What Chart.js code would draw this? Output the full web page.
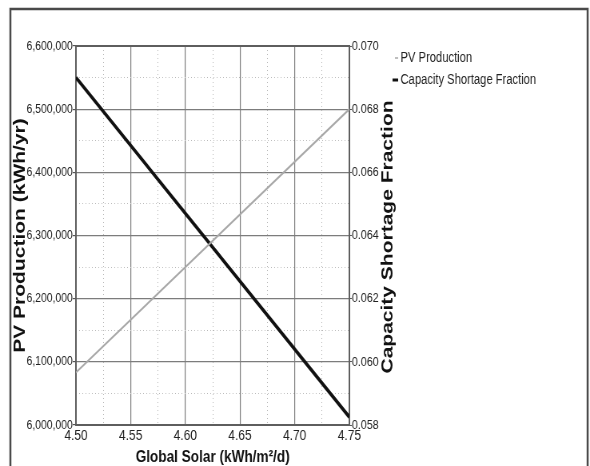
<!DOCTYPE html>
<html>
<head>
<meta charset="utf-8">
<title>PV Production vs Global Solar</title>
<script src="https://cdn.jsdelivr.net/npm/chart.js@4.4.1/dist/chart.umd.min.js"></script>
<style>
    html, body { margin: 0; padding: 0; background: #fff; overflow: hidden; }
</style>
</head>
<body>
<!-- canvas drawn wider and squeezed, like the narrow look of the original -->
<canvas id="myChart" width="738" height="466" style="width:590px;height:466px;display:block"></canvas>
<script>
// Sensitivity values (x) and results
const globalSolar = [4.50, 4.75];
const pvProduction = [6083000, 6500000];
const capacityShortage = [0.0690, 0.05825];

// Tick settings
const pvTicks = { min: 6000000, max: 6600000, step: 100000 };
const csfTicks = { min: 0.058, max: 0.070, step: 0.002 };
const solarTicks = { min: 4.50, max: 4.75, step: 0.05 };

const seriesLabels = ['PV Production', 'Capacity Shortage Fraction'];

const FONT = '"Liberation Sans", Arial, sans-serif';
Chart.defaults.font.family = FONT;
Chart.defaults.color = '#222';

const majorGrid = '#7c7c7c';
const minorGrid = '#b8b8b8';

// Frame round the plot area, outer border, right title and legend
const frame = {
    id: 'frame',
    beforeDatasetsDraw(chart) {
        const a = chart.chartArea;
        const ctx = chart.ctx;
        ctx.save();
        ctx.strokeStyle = '#5e5e5e';
        ctx.lineWidth = 2;
        ctx.strokeRect(a.left, a.top, a.right - a.left, a.bottom - a.top);
        ctx.restore();
    },
    afterDraw(chart) {
        const ctx = chart.ctx;
        ctx.save();
        // outer border of the picture
        ctx.strokeStyle = '#4a4a4a';
        ctx.lineWidth = 2.5;
        ctx.strokeRect(13, 9, 722, 470);

        // right axis title, reading bottom to top
        ctx.fillStyle = '#111';
        ctx.font = 'bold 21px ' + FONT;
        ctx.textAlign = 'center';
        ctx.textBaseline = 'middle';
        ctx.translate(485, 237);
        ctx.rotate(-Math.PI / 2);
        ctx.fillText('Capacity Shortage Fraction', 0, 0);
        ctx.restore();

        // legend
        ctx.save();
        ctx.font = '14px ' + FONT;
        ctx.textBaseline = 'middle';
        ctx.fillStyle = '#222';
        chart.data.datasets.forEach((ds, i) => {
            const y = 58 + i * 22;
            ctx.strokeStyle = ds.borderColor;
            ctx.lineWidth = i === 0 ? 1.5 : 3;
            ctx.beginPath();
            ctx.moveTo(i === 0 ? 494 : 491, y);
            ctx.lineTo(498, y);
            ctx.stroke();
            ctx.fillText(ds.label, 501, y);
        });
        ctx.restore();
    }
};

function statisticsChart() {
    let ctx = document.getElementById('myChart');
    new Chart(ctx, {
        type: 'line',
        data: {
            datasets: [{
                label: seriesLabels[0],
                data: globalSolar.map((x, i) => ({ x: x, y: pvProduction[i] })),
                yAxisID: 'y',
                xAxisID: 'x',
                borderColor: '#a8a8a8',
                borderWidth: 2,
                pointRadius: 0,
                fill: false
            }, {
                label: seriesLabels[1],
                data: globalSolar.map((x, i) => ({ x: x, y: capacityShortage[i] })),
                yAxisID: 'y2',
                xAxisID: 'x',
                borderColor: '#111',
                borderWidth: 3.6,
                pointRadius: 0,
                fill: false
            }]
        },
        options: {
            responsive: false,
            animation: false,
            devicePixelRatio: 1,
            layout: {
                padding: { top: 46, right: 0, bottom: 0, left: 0 }
            },
            plugins: {
                legend: { display: false },
                tooltip: { enabled: false }
            },
            scales: {
                x: {
                    type: 'linear',
                    position: 'bottom',
                    min: solarTicks.min,
                    max: solarTicks.max,
                    ticks: {
                        stepSize: solarTicks.step,
                        callback: (v) => v.toFixed(2),
                        font: { size: 15 },
                        padding: 2,
                        maxRotation: 0
                    },
                    grid: { color: majorGrid, lineWidth: 1.2, tickLength: 0, drawTicks: false },
                    border: { display: false },
                    title: {
                        display: true,
                        text: 'Global Solar (kWh/m²/d)',
                        color: '#111',
                        font: { size: 17, weight: 'bold', lineHeight: 1 },
                        padding: { top: 0, bottom: 0 }
                    },
                    afterFit: (scale) => { scale.height = 41; }
                },
                xMinor: {
                    type: 'linear',
                    position: 'bottom',
                    min: solarTicks.min,
                    max: solarTicks.max,
                    ticks: { display: false, stepSize: solarTicks.step / 2 },
                    grid: {
                        color: (c) => c.index % 2 ? minorGrid : 'rgba(0,0,0,0)',
                        drawTicks: false
                    },
                    border: { display: false, dash: [1, 3] },
                    afterFit: (scale) => { scale.height = 0; }
                },
                y: {
                    position: 'left',
                    min: pvTicks.min,
                    max: pvTicks.max,
                    ticks: {
                        stepSize: pvTicks.step,
                        callback: (v) => v.toLocaleString('en-US'),
                        font: { size: 13 },
                        padding: 0
                    },
                    grid: { color: majorGrid, lineWidth: 1.2, tickLength: 4, tickColor: '#555' },
                    border: { display: false },
                    title: {
                        display: true,
                        text: 'PV Production (kWh/yr)',
                        color: '#111',
                        font: { size: 21, weight: 'bold' },
                        padding: { top: 12.5, bottom: 0 }
                    },
                    afterFit: (scale) => { scale.width = 95; }
                },
                yMinor: {
                    position: 'left',
                    min: pvTicks.min,
                    max: pvTicks.max,
                    ticks: { display: false, stepSize: pvTicks.step / 2 },
                    grid: {
                        color: (c) => c.index % 2 ? minorGrid : 'rgba(0,0,0,0)',
                        drawTicks: false
                    },
                    border: { display: false, dash: [1, 3] },
                    afterFit: (scale) => { scale.width = 0; }
                },
                y2: {
                    position: 'right',
                    min: csfTicks.min,
                    max: csfTicks.max,
                    ticks: {
                        stepSize: csfTicks.step,
                        callback: (v) => v.toFixed(3),
                        font: { size: 13.5 },
                        padding: 0
                    },
                    grid: { drawOnChartArea: false, tickLength: 3, tickColor: '#555' },
                    border: { display: false },
                    afterFit: (scale) => { scale.width = 301; }
                }
            }
        },
        plugins: [frame]
    });
}

document.addEventListener('DOMContentLoaded', statisticsChart);
</script>
</body>
</html>
